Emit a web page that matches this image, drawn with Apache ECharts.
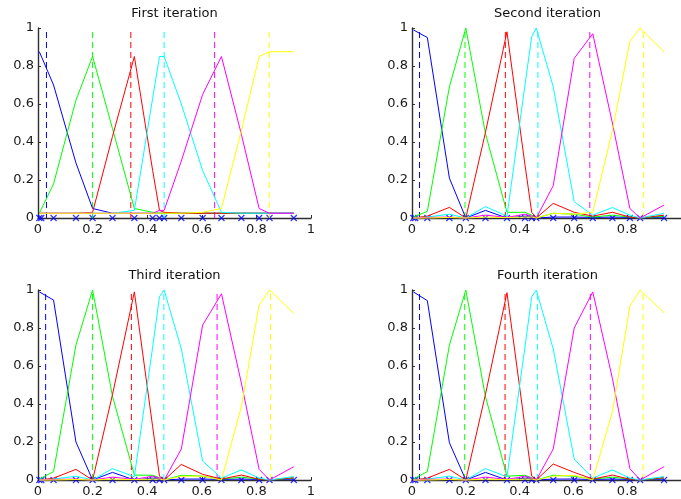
<!DOCTYPE html>
<html>
<head>
    <meta charset="UTF-8">
    <title>Iterations</title>
    <script src="https://cdn.jsdelivr.net/npm/echarts@6/dist/echarts.min.js"></script>
    <style>
        html, body {
            margin: 0;
            padding: 0;
            background: #fff;
        }

        #chart {
            width: 681px;
            height: 499px;
        }
    </style>
</head>
<body>
<div id="chart"></div>
<script>
    // sample positions (x markers on the axis), shared by all four panels
    var xs = [0.005, 0.012, 0.057, 0.139, 0.2, 0.273, 0.353, 0.42, 0.445, 0.462, 0.525, 0.603, 0.672, 0.745, 0.81, 0.848, 0.937];
    var xTicks = [0, 0.2, 0.4, 0.6, 0.8, 1];
    var yTicks = [0, 0.2, 0.4, 0.6, 0.8, 1];
    var titles = ['First iteration', 'Second iteration', 'Third iteration', 'Fourth iteration'];
    var colors = ['#0000ff', '#00ff00', '#ff0000', '#00ffff', '#ff00ff', '#ffff00'];

    // first iteration
    var blue1 = [0.875, 0.87, 0.70, 0.29, 0.05, 0.025, 0.025, 0.025, 0.025, 0.025, 0.025, 0.025, 0.025, 0.025, 0.025, 0.025, 0.025];
    var green1 = [0.025, 0.03, 0.18, 0.62, 0.85, 0.47, 0.05, 0.03, 0.025, 0.025, 0.025, 0.025, 0.025, 0.025, 0.025, 0.025, 0.025];
    var red1 = [0.025, 0.025, 0.025, 0.025, 0.03, 0.43, 0.85, 0.25, 0.04, 0.03, 0.025, 0.025, 0.025, 0.025, 0.025, 0.025, 0.025];
    var cyan1 = [0.025, 0.025, 0.025, 0.025, 0.025, 0.025, 0.04, 0.63, 0.85, 0.85, 0.6, 0.25, 0.03, 0.025, 0.025, 0.025, 0.025];
    var magenta1 = [0.025, 0.025, 0.025, 0.025, 0.025, 0.025, 0.025, 0.025, 0.04, 0.04, 0.3, 0.65, 0.85, 0.44, 0.05, 0.025, 0.025];
    var yellow1 = [0.025, 0.025, 0.025, 0.025, 0.025, 0.025, 0.025, 0.025, 0.025, 0.025, 0.025, 0.03, 0.05, 0.46, 0.85, 0.875, 0.875];
    var centers1 = [0.031, 0.2, 0.34, 0.462, 0.647, 0.847];

    // second iteration
    var blue2 = [0.99, 0.985, 0.95, 0.21, 0, 0.04, 0, 0.01, 0.005, 0, 0.005, 0.005, 0.003, 0.005, 0.003, 0, 0.005];
    var green2 = [0.005, 0.01, 0.035, 0.69, 1.0, 0.445, 0.03, 0.03, 0.015, 0, 0.025, 0.02, 0.005, 0.015, 0.005, 0, 0.01];
    var red2 = [0, 0.003, 0.01, 0.056, 0, 0.45, 0.98, 0.28, 0.03, 0, 0.077, 0.03, 0.01, 0.03, 0.005, 0, 0.015];
    var cyan2 = [0, 0.003, 0.005, 0.02, 0, 0.06, 0.01, 0.7, 0.955, 1.0, 0.69, 0.086, 0.015, 0.055, 0.015, 0, 0.025];
    var magenta2 = [0, 0, 0.003, 0.005, 0, 0.015, 0.003, 0.02, 0.01, 0, 0.17, 0.84, 0.97, 0.5, 0.05, 0, 0.068];
    var yellow2 = [0, 0, 0, 0.003, 0, 0.005, 0.002, 0.005, 0.005, 0, 0.025, 0.02, 0.03, 0.46, 0.93, 1.0, 0.875];
    var centers2 = [0.028, 0.197, 0.347, 0.468, 0.661, 0.86];

    // third iteration
    var blue3 = [0.99, 0.985, 0.947, 0.2, 0, 0.04, 0, 0.01, 0.005, 0, 0.005, 0.005, 0.003, 0.005, 0.003, 0, 0.005];
    var green3 = [0.005, 0.01, 0.044, 0.71, 1.0, 0.44, 0.026, 0.025, 0.012, 0, 0.025, 0.02, 0.005, 0.015, 0.005, 0, 0.01];
    var red3 = [0, 0.003, 0.01, 0.056, 0, 0.45, 0.99, 0.28, 0.02, 0, 0.082, 0.03, 0.005, 0.026, 0.004, 0, 0.012];
    var cyan3 = [0, 0.003, 0.005, 0.02, 0, 0.06, 0.017, 0.7, 0.965, 1.0, 0.69, 0.1, 0.01, 0.053, 0.01, 0, 0.018];
    var magenta3 = [0, 0, 0.003, 0.005, 0, 0.015, 0.003, 0.02, 0.01, 0, 0.163, 0.815, 0.98, 0.51, 0.056, 0, 0.07];
    var yellow3 = [0, 0, 0, 0.003, 0, 0.005, 0.002, 0.005, 0.005, 0, 0.02, 0.02, 0, 0.386, 0.92, 1.0, 0.877];
    var centers3 = [0.028, 0.2, 0.342, 0.461, 0.656, 0.852];

    // fourth iteration
    var blue4 = [0.99, 0.985, 0.944, 0.196, 0, 0.04, 0, 0.01, 0.005, 0, 0.005, 0.005, 0.003, 0.005, 0.003, 0, 0.005];
    var green4 = [0.005, 0.01, 0.044, 0.71, 1.0, 0.44, 0.02, 0.025, 0.012, 0, 0.025, 0.02, 0.005, 0.015, 0.005, 0, 0.01];
    var red4 = [0, 0.003, 0.01, 0.056, 0, 0.45, 0.986, 0.28, 0.02, 0, 0.084, 0.04, 0.005, 0.026, 0.004, 0, 0.012];
    var cyan4 = [0, 0.003, 0.005, 0.02, 0, 0.06, 0.017, 0.7, 0.965, 1.0, 0.69, 0.11, 0.01, 0.053, 0.01, 0, 0.018];
    var magenta4 = [0, 0, 0.003, 0.005, 0, 0.015, 0.003, 0.02, 0.01, 0, 0.163, 0.8, 0.99, 0.535, 0.06, 0, 0.07];
    var yellow4 = [0, 0, 0, 0.003, 0, 0.005, 0.002, 0.005, 0.005, 0, 0.02, 0.025, 0, 0.36, 0.915, 1.0, 0.88];
    var centers4 = [0.028, 0.196, 0.346, 0.466, 0.663, 0.859];

    var panels = [
        {curves: [blue1, green1, red1, cyan1, magenta1, yellow1], centers: centers1}
        , {curves: [blue2, green2, red2, cyan2, magenta2, yellow2], centers: centers2}
        , {curves: [blue3, green3, red3, cyan3, magenta3, yellow3], centers: centers3}
        , {curves: [blue4, green4, red4, cyan4, magenta4, yellow4], centers: centers4}
    ];

    // panel boxes: left, top, width, height
    var boxes = [
        [38, 28, 273, 190]
        , [412, 28, 271, 190]
        , [38, 290, 273, 190]
        , [412, 290, 271, 190]
    ];

    var font = 'DejaVu Sans, Liberation Sans, Arial, sans-serif';
    var axisColor = '#2e2e2e';

    var grid = [], xAxis = [], yAxis = [], title = [], series = [];

    boxes.forEach(function (b, i) {
        grid.push({left: b[0], top: b[1], width: b[2], height: b[3]});
        title.push({
            text: titles[i]
            , left: b[0] + b[2] / 2
            , top: b[1] - 21
            , textAlign: 'center'
            , padding: 0
            , textStyle: {fontFamily: font, fontSize: 13, fontWeight: 'normal', color: '#111'}
        });
        xAxis.push({
            gridIndex: i
            , type: 'value'
            , min: xTicks[0]
            , max: xTicks[xTicks.length - 1]
            , interval: 0.2
            , axisLine: {onZero: false, lineStyle: {color: axisColor, width: 1.4}}
            , axisTick: {inside: true, length: 3, lineStyle: {color: axisColor}}
            , axisLabel: {
                color: '#1a1a1a', fontFamily: font, fontSize: 13, margin: 5
                , showMaxLabel: i % 2 === 0
            }
            , splitLine: {show: false}
        });
        yAxis.push({
            gridIndex: i
            , type: 'value'
            , min: yTicks[0]
            , max: yTicks[yTicks.length - 1]
            , interval: 0.2
            , axisLine: {onZero: false, lineStyle: {color: axisColor, width: 1.4}}
            , axisTick: {inside: true, length: 3, lineStyle: {color: axisColor}}
            , axisLabel: {color: '#1a1a1a', fontFamily: font, fontSize: 13, margin: 4}
            , splitLine: {show: false}
        });

        var p = panels[i];
        // dashed centre lines
        p.centers.forEach(function (c, k) {
            series.push({
                type: 'line'
                , xAxisIndex: i
                , yAxisIndex: i
                , data: [[c, 0], [c, 1]]
                , symbol: 'none'
                , silent: true
                , clip: false
                , lineStyle: {color: colors[k], width: 1, type: [6, 4]}
            });
        });
        // membership curves
        p.curves.forEach(function (vals, k) {
            series.push({
                type: 'line'
                , xAxisIndex: i
                , yAxisIndex: i
                , data: xs.map(function (x, j) {
                    return [x, vals[j]];
                })
                , symbol: 'none'
                , silent: true
                , clip: false
                , lineStyle: {color: colors[k], width: 1}
            });
        });
        // sample markers
        series.push({
            type: 'scatter'
            , xAxisIndex: i
            , yAxisIndex: i
            , data: xs.map(function (x) {
                return [x, 0];
            })
            , symbol: 'path://M0,0L10,10M10,0L0,10'
            , symbolSize: 6
            , silent: true
            , clip: false
            , itemStyle: {color: 'none', borderColor: '#0000ff', borderWidth: 1.2}
        });
    });

    var chart = echarts.init(document.getElementById('chart'));
    chart.setOption({
        animation: false
        , backgroundColor: '#fff'
        , title: title
        , grid: grid
        , xAxis: xAxis
        , yAxis: yAxis
        , series: series
    });
</script>
</body>
</html>
